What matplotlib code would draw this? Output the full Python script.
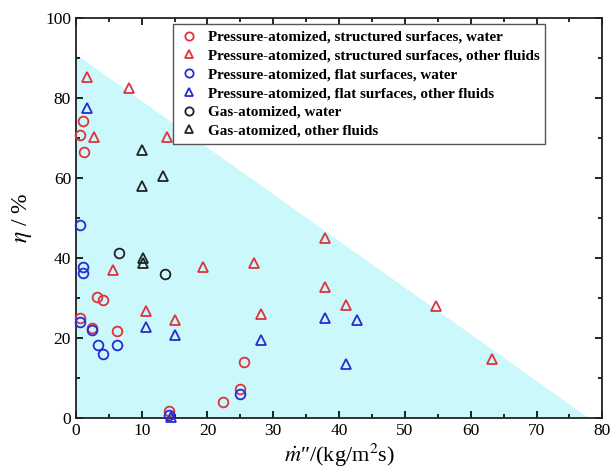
import matplotlib
matplotlib.use("Agg")
from matplotlib import pyplot as plt
from matplotlib.ticker import MultipleLocator

plt.rcParams['font.family'] = ['Liberation Serif', 'DejaVu Serif']
plt.rcParams['mathtext.fontset'] = 'stix'

# pressure-atomized, structured surfaces, water
ps_water_x = [1.1, 0.7, 1.2, 0.7, 2.5, 3.2, 4.1, 6.3, 14.1, 22.4, 25.0, 25.5]
ps_water_y = [74.3, 70.7, 66.6, 25.2, 22.7, 30.4, 29.6, 21.9, 1.9, 4.0, 7.3, 14.0]

# pressure-atomized, structured surfaces, other fluids
ps_other_x = [1.7, 8.0, 2.8, 13.9, 5.6, 19.3, 27.0, 10.6, 15.1, 28.1, 37.9, 37.9, 41.0, 54.7, 63.2]
ps_other_y = [85.2, 82.5, 70.2, 70.4, 37.1, 37.7, 38.7, 26.8, 24.6, 26.1, 45.0, 32.7, 28.3, 28.2, 14.8]

# pressure-atomized, flat surfaces, water
pf_water_x = [0.7, 1.1, 1.1, 0.7, 2.5, 3.3, 4.1, 6.3, 14.1, 25.0]
pf_water_y = [48.4, 37.7, 36.2, 24.0, 22.2, 18.4, 16.2, 18.3, 0.8, 6.0]

# pressure-atomized, flat surfaces, other fluids
pf_other_x = [1.7, 10.6, 15.1, 28.1, 37.9, 42.7, 41.0, 14.5]
pf_other_y = [77.5, 22.9, 20.8, 19.6, 25.0, 24.6, 13.7, 0.3]

# gas-atomized
ga_water_x = [6.6, 13.6]
ga_water_y = [41.4, 36.0]
ga_other_x = [10.1, 13.2, 10.1, 10.2, 10.2]
ga_other_y = [67.1, 60.6, 58.1, 40.0, 38.8]

# shaded region boundary
region_x = [0, 0, 78]
region_y = [0, 91, 0]

red = '#e0323c'
blue = '#2a2ad2'
black = '#222222'

fig = plt.figure(figsize=(6.1, 4.76), dpi=100)
ax = fig.add_axes([0.1244, 0.1212, 0.863, 0.8404])

ax.fill(region_x, region_y, color='#cbf8fa', lw=0, zorder=0)

series = [
    (ps_water_x, ps_water_y, 'o', red, 'Pressure-atomized, structured surfaces, water'),
    (ps_other_x, ps_other_y, '^', red, 'Pressure-atomized, structured surfaces, other fluids'),
    (pf_water_x, pf_water_y, 'o', blue, 'Pressure-atomized, flat surfaces, water'),
    (pf_other_x, pf_other_y, '^', blue, 'Pressure-atomized, flat surfaces, other fluids'),
    (ga_water_x, ga_water_y, 'o', black, 'Gas-atomized, water'),
    (ga_other_x, ga_other_y, '^', black, 'Gas-atomized, other fluids'),
]
for xs, ys, m, c, lab in series:
    ax.plot(xs, ys, ls='none', marker=m, ms=7, mfc='none', mec=c, mew=1.3,
            label=lab, clip_on=False, zorder=3)

ax.set_xlim(0, 80)
ax.set_ylim(0, 100)
ax.xaxis.set_major_locator(MultipleLocator(10))
ax.xaxis.set_minor_locator(MultipleLocator(5))
ax.yaxis.set_major_locator(MultipleLocator(20))
ax.yaxis.set_minor_locator(MultipleLocator(10))
ax.tick_params(which='both', direction='in', top=True, right=True, labelsize=12.5, width=1.2)
ax.tick_params(which='major', length=5)
ax.tick_params(which='minor', length=3)
for s in ax.spines.values():
    s.set_linewidth(1.3)
    s.set_color('#222222')

ax.set_xlabel(r'$\dot{m}$″/(kg/m$^2$s)', fontsize=16, labelpad=2)
ax.set_ylabel(r'$\eta$ / %', fontsize=17, labelpad=8)

leg = ax.legend(loc='upper right', bbox_to_anchor=(0.892, 0.985), fancybox=False,
                edgecolor='#555555', framealpha=1, prop={'weight': 'bold', 'size': 10.9},
                handletextpad=0.6, labelspacing=0.34, borderpad=0.4, handlelength=1.3,
                markerscale=0.85, borderaxespad=0)
leg.get_frame().set_linewidth(1.0)

fig.savefig('out.png', dpi=100)
